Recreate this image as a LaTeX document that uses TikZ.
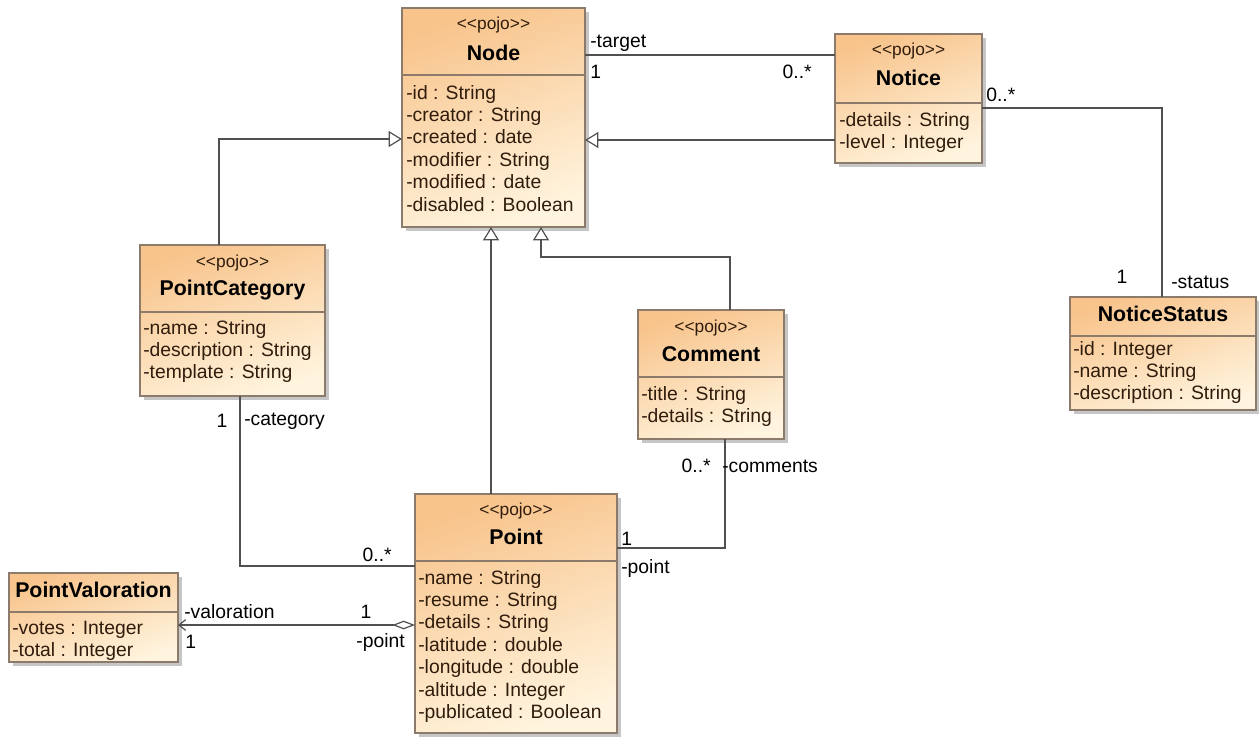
\documentclass[tikz,border=0pt]{standalone}
\usepackage{fontspec}
\newfontfamily\umlfont{Liberation Sans}
\usetikzlibrary{arrows.meta}

\definecolor{boxtop}{HTML}{F8C48C}
\definecolor{boxbot}{HTML}{FFF4DE}
\definecolor{boxline}{HTML}{8C7A6A}
\definecolor{shadowgray}{HTML}{C6C6C6}
\definecolor{attrtext}{HTML}{301C0C}
\definecolor{wire}{HTML}{505050}

\tikzset{
  classbody/.style={rectangle, draw=boxline, line width=0.9pt,
    top color=boxtop, bottom color=boxbot, shading angle=20,
    inner sep=0pt, outer sep=0pt},
  divider/.style={draw=boxline, line width=0.9pt},
  boxshadow/.style={fill=shadowgray},
  stereo/.style={font=\umlfont\fontsize{13}{15}\selectfont, text=attrtext, inner sep=0pt},
  ctitle/.style={font=\umlfont\bfseries\fontsize{16}{18}\selectfont, text=black, inner sep=0pt},
  attr/.style={font=\umlfont\fontsize{14.5}{17}\selectfont, text=attrtext, inner sep=0pt, anchor=base west},
  lbl/.style={font=\umlfont\fontsize{14.5}{17}\selectfont, text=black, inner sep=0pt},
  conn/.style={draw=wire, line width=0.9pt},
  gen/.style={conn, -{Triangle[open, length=10pt, width=12pt, fill=white]}},
  agg/.style={conn, {Diamond[open, length=17pt, width=6.5pt, fill=white]}-{Straight Barb[length=5pt, width=8pt]}},
}

% class frame: name, left, top, right, bottom, divider
\newcommand\umlclass[6]{%
  \fill[boxshadow] (#2+4,#3+4) rectangle (#4+4,#5+4);
  \node[classbody, anchor=north west,
        minimum width={(#4-#2)*0.75pt}, minimum height={(#5-#3)*0.75pt}] (#1) at (#2,#3) {};
  \draw[divider] (#1.west |- 0,#6) -- (#1.east |- 0,#6);
}
% attribute lines: name, left, first baseline, list
\newcommand\umlattrs[4]{%
  \foreach \txt [count=\k] in {#4}
    \node[attr] (#1-a\k) at (#2, {#3+(\k-1)*22.4}) {\txt};
}

\begin{document}
\begin{tikzpicture}[x=0.75pt, y=-0.75pt]
\useasboundingbox (0,0) rectangle (1259,736);

% ---------------- classes ----------------
\umlclass{Node}{402}{8}{585}{227}{75}
\node[stereo] (Node-s) at ({(402+585)/2},25) {<{}<pojo>{}>};
\node[ctitle] (Node-t) at ({(402+585)/2},53) {Node};
\umlattrs{Node}{406}{99}{-id : String,-creator : String,-created : date,-modifier : String,-modified : date,-disabled : Boolean}

\umlclass{Notice}{835}{34}{982}{163}{103}
\node[stereo] (Notice-s) at ({(835+982)/2},51) {<{}<pojo>{}>};
\node[ctitle] (Notice-t) at ({(835+982)/2},78) {Notice};
\umlattrs{Notice}{839}{126}{-details : String,-level : Integer}

\umlclass{NoticeStatus}{1070}{297}{1256}{410}{336}
\node[ctitle] (NoticeStatus-t) at ({(1070+1256)/2},314) {NoticeStatus};
\umlattrs{NoticeStatus}{1073}{355}{-id : Integer,-name : String,-description : String}

\umlclass{PointCategory}{140}{245}{325}{396}{312}
\node[stereo] (PointCategory-s) at ({(140+325)/2},263) {<{}<pojo>{}>};
\node[ctitle] (PointCategory-t) at ({(140+325)/2},290) {PointCategory};
\umlattrs{PointCategory}{143}{334}{-name : String,-description : String,-template : String}

\umlclass{Comment}{638}{310}{784}{439}{377}
\node[stereo] (Comment-s) at ({(638+784)/2},328) {<{}<pojo>{}>};
\node[ctitle] (Comment-t) at ({(638+784)/2},354) {Comment};
\umlattrs{Comment}{641}{400}{-title : String,-details : String}

\umlclass{Point}{415}{494}{617}{733}{561}
\node[stereo] (Point-s) at ({(415+617)/2},511) {<{}<pojo>{}>};
\node[ctitle] (Point-t) at ({(415+617)/2},537) {Point};
\umlattrs{Point}{418}{584}{-name : String,-resume : String,-details : String,-latitude : double,-longitude : double,-altitude : Integer,-publicated : Boolean}

\umlclass{PointValoration}{9}{573}{178}{662}{612}
\node[ctitle] (PointValoration-t) at ({(9+178)/2},590) {PointValoration};
\umlattrs{PointValoration}{12}{634}{-votes : Integer,-total : Integer}

% ---------------- generalizations ----------------
\draw[gen] (Notice.west |- 0,140) -- (Node.east |- 0,140);
\draw[gen] (PointCategory.north -| 219,0) |- (Node.west |- 0,139);
\draw[gen] (Point.north -| 491,0) -- (Node.south -| 491,0);
\coordinate (cbend) at (541,257);
\draw[gen] (Comment.north -| 730,0) |- (cbend) -- (Node.south -| cbend);

% ---------------- associations ----------------
\draw[conn] (Node.east |- 0,55) -- (Notice.west |- 0,55);
\node[lbl, anchor=west] (l-target) at (590,43) {-target};
\node[lbl, anchor=west] (l-target-m) at (590,72) {1};
\node[lbl, anchor=east] (l-notice-m) at (812,72) {0..*};

\draw[conn] (Notice.east |- 0,108) -| (NoticeStatus.north -| 1162,0);
\node[lbl, anchor=west] (l-ns-m1) at (986,95) {0..*};
\node[lbl] (l-ns-m2) at (1122,277) {1};
\node[lbl, anchor=west] (l-status) at (1171,282) {-status};

\draw[conn] (PointCategory.south -| 240,0) |- (Point.west |- 0,566);
\node[lbl] (l-cat-m) at (222,421) {1};
\node[lbl, anchor=west] (l-category) at (244,421) {-category};
\node[lbl, anchor=east] (l-catpt-m) at (392,555) {0..*};

\draw[conn] (Comment.south -| 725,0) |- (Point.east |- 0,548);
\node[lbl, anchor=east] (l-com-m) at (711,466) {0..*};
\node[lbl, anchor=west] (l-comments) at (722,466) {-comments};
\node[lbl, anchor=west] (l-cpt-m) at (621,539) {1};
\node[lbl, anchor=west] (l-cpoint) at (621,568) {-point};

\draw[agg] (Point.west |- 0,625) -- (PointValoration.east |- 0,625);
\node[lbl, anchor=west] (l-valoration) at (184,612) {-valoration};
\node[lbl, anchor=west] (l-val-m) at (185,642) {1};
\node[lbl] (l-pv-m) at (366,612) {1};
\node[lbl, anchor=east] (l-vpoint) at (405,642) {-point};
\end{tikzpicture}
\end{document}
